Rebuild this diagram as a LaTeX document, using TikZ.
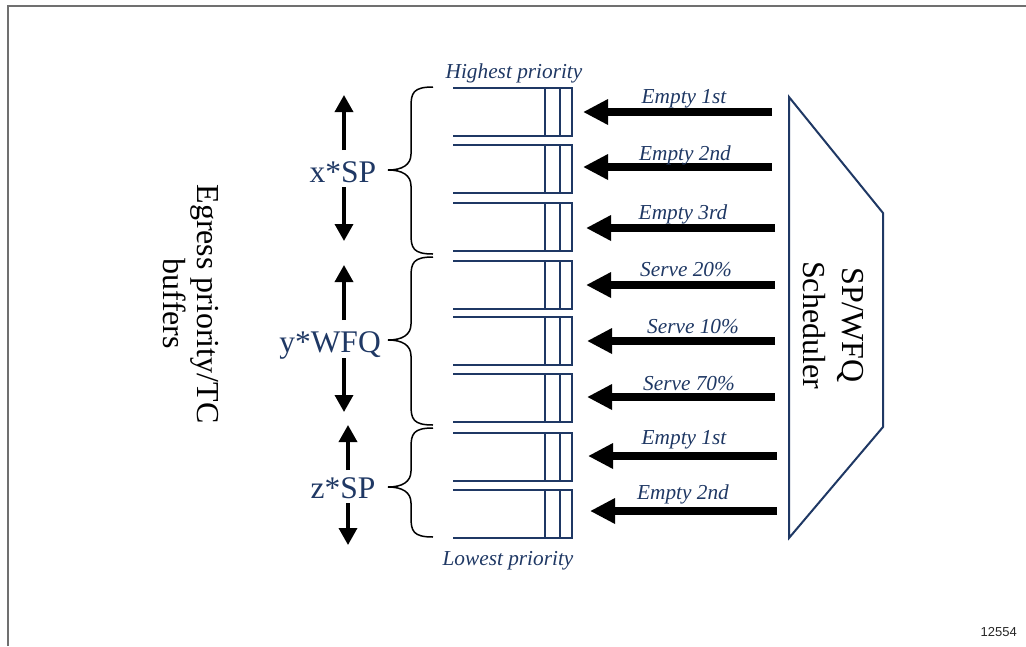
\documentclass[tikz,border=0pt]{standalone}
\usepackage{fontspec}
\setmainfont{Liberation Serif}
\newfontfamily\arialfont{Liberation Sans}
\usetikzlibrary{arrows.meta}
\definecolor{navy}{RGB}{31,56,100}
\definecolor{framegray}{RGB}{112,112,112}
\begin{document}
\begin{tikzpicture}[x=1pt,y=-1pt,
  bufline/.style={navy, line width=2pt},
  bufbox/.style={minimum width=119pt, minimum height=48pt, inner sep=0pt, outer sep=0pt},
  bigarrow/.style={line width=8pt, -{Triangle[length=25pt,width=24pt]}},
  smallarrow/.style={line width=3.5pt, -{Triangle[length=17pt,width=18pt]}},
  lbl/.style={navy, font=\fontsize{21.3}{24}\selectfont\itshape, anchor=base, inner sep=0pt},
  grp/.style={navy, font=\fontsize{31.5}{36}\selectfont, anchor=base, inner sep=0pt},
  bracestyle/.style={black, line width=1.5pt},
  vlabel/.style={black, rotate=-90, align=center, inner sep=0pt},
]
\useasboundingbox (0,0) rectangle (1026,646);

% page frame (top and left edges only)
\draw[framegray, line width=2pt] (7.5,646) -- (7.5,6) -- (1026,6);

% egress buffers: open on the left, two slots on the right
\foreach \i/\t in {1/88, 2/145, 3/203, 4/261, 5/317, 6/374, 7/433, 8/490} {
  \node[bufbox] (b\i) at (512.5,\t+24) {};
  \draw[bufline] (b\i.north west) -- (b\i.north east) -- (b\i.south east) -- (b\i.south west);
  \draw[bufline] ([xshift=-27pt]b\i.north east) -- ([xshift=-27pt]b\i.south east);
  \draw[bufline] ([xshift=-12pt]b\i.north east) -- ([xshift=-12pt]b\i.south east);
}

% scheduler
\coordinate (s1) at (789,97);
\coordinate (s2) at (883,213);
\coordinate (s3) at (883,427);
\coordinate (s4) at (789,538);
\draw[navy, line width=2pt, line join=miter] (s1) -- (s2) -- (s3) -- (s4) -- cycle;
\node[vlabel, font=\fontsize{32}{39}\selectfont] (sched) at (833,325) {SP/WFQ\\Scheduler};

% service arrows from scheduler to buffers
\foreach \i/\y/\tx/\sh in {1/112/772/11, 2/167/772/11, 3/228/775/14, 4/285/775/14,
                           5/341/775/15, 6/397/775/15, 7/456/777/16, 8/511/777/18} {
  \coordinate (a\i) at (\tx,\y);
  \draw[bigarrow, shorten >=\sh pt] (a\i) -- (a\i -| b\i.east);
}

% service labels
\node[lbl] (l1) at (684,103) {Empty 1st};
\node[lbl] (l2) at (685,160) {Empty 2nd};
\node[lbl] (l3) at (683,219) {Empty 3rd};
\node[lbl] (l4) at (686,276) {Serve 20\%};
\node[lbl] (l5) at (693,333) {Serve 10\%};
\node[lbl] (l6) at (689,390) {Serve 70\%};
\node[lbl] (l7) at (684,444) {Empty 1st};
\node[lbl] (l8) at (683,499) {Empty 2nd};

\node[lbl] (hi) at (514,78) {Highest priority};
\node[lbl] (lo) at (508,565) {Lowest priority};

% braces grouping the buffers
\foreach \ya/\ym/\yb in {87/170/254, 257/340/425, 428/487/537} {
  \draw[bracestyle] (433,\ya) .. controls (413,\ya) and (411,\ya+6) .. (411,\ya+20)
    -- (411,\ym-16) .. controls (411,\ym-5) and (402,\ym) .. (388,\ym)
    .. controls (402,\ym) and (411,\ym+5) .. (411,\ym+16)
    -- (411,\yb-20) .. controls (411,\yb-6) and (413,\yb) .. (433,\yb);
}

% group labels with up/down arrows
\node[grp] (gx) at (343,182) {x*SP};
\node[grp] (gy) at (330,352) {y*WFQ};
\node[grp] (gz) at (343,498) {z*SP};

\foreach \n/\x/\ua/\ub/\da/\db in {x/344/150/95/187/241, y/344/320/265/358/412, z/348/470/425/503/545} {
  \coordinate (\n u0) at (\x,\ua);
  \coordinate (\n u1) at (\x,\ub);
  \coordinate (\n d0) at (\x,\da);
  \coordinate (\n d1) at (\x,\db);
  \draw[smallarrow] (\n u0) -- (\n u1);
  \draw[smallarrow] (\n d0) -- (\n d1);
}

\node[vlabel, font=\fontsize{32}{34}\selectfont] (egress) at (191,304) {Egress priority/TC\\buffers};

\node[font=\arialfont\fontsize{13}{15}\selectfont, text=black!85, anchor=base east, inner sep=0pt] (fig) at (1017,636) {12554};
\end{tikzpicture}
\end{document}
